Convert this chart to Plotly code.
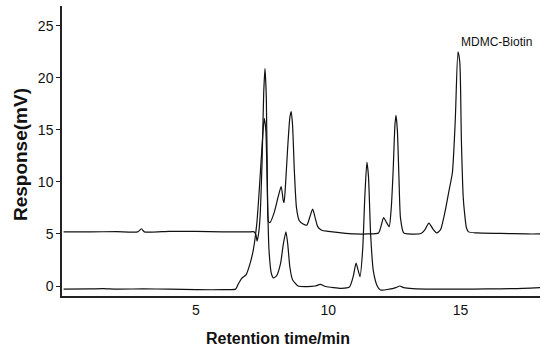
import plotly.graph_objects as go

# Upper trace (sample) - retention time (min) and response (mV)
upper_t = [0.0, 1.0, 2.0, 2.8, 2.94, 3.05, 4.0, 5.0, 6.0, 7.0, 7.2, 7.27, 7.31, 7.36, 7.42,
           7.5, 7.56, 7.61, 7.66, 7.7, 7.74, 7.8, 7.95, 8.1, 8.22, 8.3, 8.33, 8.38, 8.46,
           8.55, 8.6, 8.65, 8.72, 8.8, 8.9, 9.05, 9.19, 9.3, 9.41, 9.5, 9.6, 9.75, 10.0,
           10.5, 11.0, 11.5, 11.9, 12.0, 12.09, 12.18, 12.3, 12.38, 12.45, 12.52, 12.56,
           12.61, 12.67, 12.73, 12.85, 13.0, 13.5, 13.65, 13.8, 13.95, 14.1, 14.24, 14.4,
           14.55, 14.69, 14.8, 14.9, 14.97, 15.03, 15.1, 15.15, 15.22, 15.3, 15.6, 16.5,
           17.5, 18.0]
upper_mv = [5.2, 5.2, 5.22, 5.2, 5.5, 5.2, 5.25, 5.25, 5.2, 5.2, 5.2, 4.9, 4.3, 4.9, 6.5,
            12.0, 18.5, 20.9, 18.0, 10.0, 6.2, 6.1, 7.0, 8.5, 9.55, 8.2, 8.0, 9.5, 13.0,
            16.2, 16.75, 15.5, 11.0, 7.5, 6.3, 5.95, 5.85, 6.6, 7.4, 6.6, 5.7, 5.35, 5.25,
            5.1, 5.0, 5.0, 5.1, 5.8, 6.57, 6.2, 5.7, 7.5, 11.0, 15.5, 16.4,
            15.0, 10.5, 6.5, 5.1, 5.0, 5.05, 5.4, 6.05, 5.5, 5.1, 5.4, 7.0,
            9.0, 10.9, 16.0, 22.5, 21.5, 14.0, 8.5, 7.0, 5.6, 5.2, 5.1, 5.05,
            5.0, 5.0]

# Lower trace (blank)
lower_t = [0.0, 1.0, 1.5, 2.0, 3.0, 4.0, 5.0, 6.0, 6.5, 6.6, 6.73, 6.9, 7.05, 7.17, 7.3,
           7.4, 7.5, 7.58, 7.64, 7.7, 7.76, 7.85, 7.93, 8.05, 8.2, 8.3, 8.4, 8.47, 8.55,
           8.65, 8.86, 9.2, 9.5, 9.7, 9.9, 10.5, 10.8, 10.95, 11.05, 11.13, 11.2, 11.3,
           11.38, 11.46, 11.52, 11.6, 11.7, 11.85, 11.97, 12.3, 12.55, 12.7, 12.85, 13.2,
           14.0, 15.0, 16.0, 17.0, 18.0]
lower_mv = [-0.3, -0.28, -0.25, -0.3, -0.28, -0.3, -0.35, -0.35, -0.3, 0.2, 0.74, 1.1, 2.2,
            3.5, 6.0, 9.5, 13.5, 16.1, 15.0, 9.0, 3.5, 1.2, 0.77, 1.0, 2.2, 4.0, 5.2, 4.0,
            1.8, 0.6, 0.0, -0.05, 0.0, 0.15, -0.05, -0.23, -0.1, 1.0, 2.2, 1.5, 0.9, 3.5,
            8.5, 11.9, 10.5, 5.0, 1.5, 0.0, -0.38, -0.3, -0.15, 0.0, -0.15, -0.25,
            -0.3, -0.3, -0.28, -0.25, -0.15]

y_ticks = [0, 5, 10, 15, 20, 25]
x_ticks = [5, 10, 15]
peak_label = "MDMC-Biotin"
peak_label_t = 16.35
peak_label_mv = 23.4
x_title = "<b>Retention time/min</b>"
y_title = "<b>Response(mV)</b>"

FONT = "Liberation Sans, Arial, sans-serif"

fig = go.Figure()
for t, mv in ((lower_t, lower_mv), (upper_t, upper_mv)):
    fig.add_trace(go.Scatter(x=t, y=mv, mode="lines",
                             line=dict(color="#111111", width=1.2, shape="spline", smoothing=0.6),
                             showlegend=False, hoverinfo="skip"))

fig.add_annotation(x=peak_label_t, y=peak_label_mv, text=peak_label, showarrow=False,
                   font=dict(family=FONT, size=12, color="#111111"))

# axis titles placed as paper annotations
fig.add_annotation(xref="paper", yref="paper", x=0.452, y=0, yshift=-42,
                   text=x_title, showarrow=False, xanchor="center", yanchor="middle",
                   font=dict(family=FONT, size=16, color="#111111"))
fig.add_annotation(xref="paper", yref="paper", x=0, xshift=-42, y=0.486,
                   text=y_title, showarrow=False, textangle=-90,
                   xanchor="center", yanchor="middle",
                   font=dict(family=FONT, size=19, color="#111111"))

fig.update_layout(
    width=547, height=350,
    margin=dict(l=62, r=7, t=6, b=54, autoexpand=False),
    paper_bgcolor="white", plot_bgcolor="white",
    font=dict(family=FONT, color="#111111"),
    xaxis=dict(range=[-0.06, 18.0], tickvals=x_ticks, ticktext=[str(v) for v in x_ticks],
               showgrid=False, zeroline=False, showline=True, linecolor="#222222", linewidth=1.5,
               ticks="", tickfont=dict(size=14, family=FONT), automargin=False),
    yaxis=dict(range=[-0.96, 26.9], tickvals=y_ticks, ticktext=[str(v) for v in y_ticks],
               showgrid=False, zeroline=False, showline=True, linecolor="#222222", linewidth=1.5,
               ticks="outside", ticklen=4, tickwidth=1, tickcolor="#222222",
               tickfont=dict(size=14, family=FONT), automargin=False),
)

fig.write_html("out.html", config={"displayModeBar": False},
               post_script="document.body.style.margin='0';document.body.style.padding='0';")
